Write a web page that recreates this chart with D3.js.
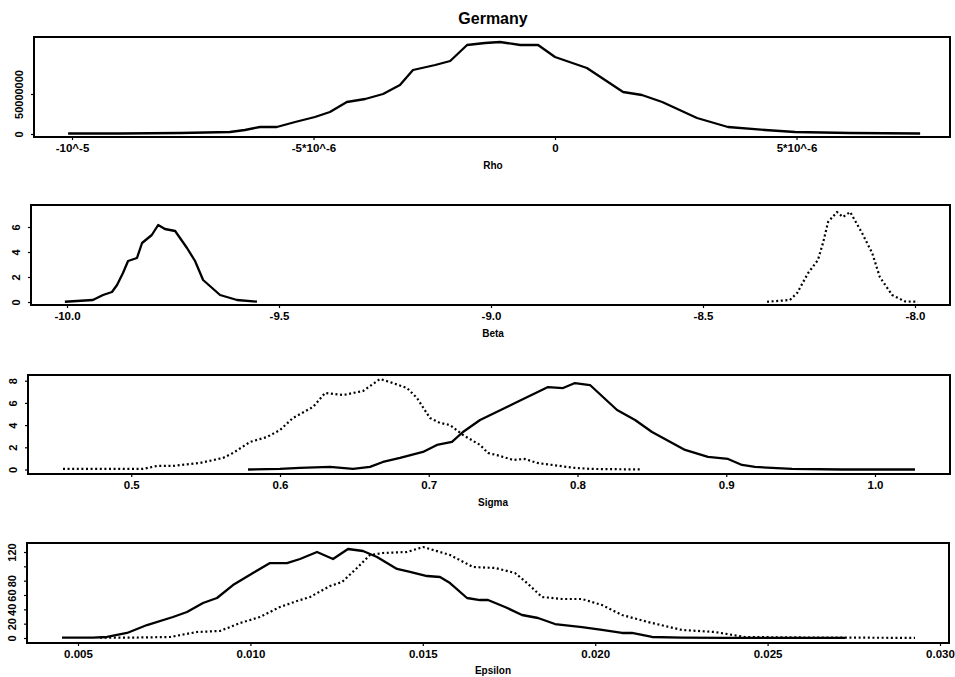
<!DOCTYPE html>
<html>
<head>
<meta charset="utf-8">
<script src="https://cdn.jsdelivr.net/npm/d3@7"></script>
<style>
  html, body { margin: 0; padding: 0; background: #fff; }
  svg { display: block; }
  text { font-family: "Liberation Sans", Arial, sans-serif; fill: #000; }
</style>
</head>
<body>
<svg id="chart" width="955" height="677"></svg>
<script>
// ---------------- DATA ----------------
const chartTitle = "Germany";

// Rho (solid)
const rhoX = [-10.08e-6, -9.01e-6, -7.76e-6, -6.73e-6, -6.42e-6, -6.11e-6, -5.76e-6, -5.38e-6, -4.97e-6, -4.66e-6,
  -4.31e-6, -3.93e-6, -3.56e-6, -3.21e-6, -2.94e-6, -2.48e-6, -2.17e-6, -1.82e-6, -1.45e-6, -1.14e-6,
  -0.72e-6, -0.35e-6, 0, 0.66e-6, 1.41e-6, 1.80e-6, 2.22e-6, 2.94e-6, 3.58e-6, 4.35e-6, 4.97e-6, 6.11e-6, 7.56e-6];
const rhoY = [0.6e6, 0.6e6, 1.25e6, 2.5e6, 5e6, 8.75e6, 8.75e6, 15e6, 21.25e6, 27.5e6,
  40e6, 43.75e6, 50e6, 61.25e6, 80e6, 86.25e6, 91.25e6, 111.25e6, 113.75e6, 115e6,
  111.25e6, 111.25e6, 96.25e6, 82.5e6, 52.5e6, 48.75e6, 40e6, 20e6, 8.75e6, 5e6, 2.5e6, 1.25e6, 0.6e6];
const rhoTicks = [-1e-5, -5e-6, 0, 5e-6];
const rhoTickLabels = ["-10^-5", "-5*10^-6", "0", "5*10^-6"];
const rhoYTicks = [0, 5e7];
const rhoYTickLabels = ["0", "50000000"];

// Beta (solid and dotted)
const betaSolidX = [-10.005, -9.939, -9.915, -9.894, -9.882, -9.868, -9.856, -9.835, -9.823, -9.800,
  -9.785, -9.769, -9.745, -9.717, -9.698, -9.679, -9.639, -9.599, -9.552];
const betaSolidY = [0.02, 0.16, 0.56, 0.8, 1.36, 2.32, 3.28, 3.52, 4.72, 5.36,
  6.16, 5.84, 5.68, 4.32, 3.28, 1.76, 0.56, 0.16, 0.03];
const betaDotX = [-8.349, -8.295, -8.278, -8.252, -8.229, -8.217, -8.205, -8.184, -8.170, -8.153,
  -8.125, -8.101, -8.083, -8.054, -8.024, -7.993];
const betaDotY = [0.02, 0.16, 0.72, 2.32, 3.36, 4.72, 6.4, 7.2, 6.8, 7.2,
  5.52, 3.92, 2.0, 0.56, 0.05, 0.02];
const betaTicks = [-10.0, -9.5, -9.0, -8.5, -8.0];
const betaTickLabels = ["-10.0", "-9.5", "-9.0", "-8.5", "-8.0"];
const betaYTicks = [0, 2, 4, 6];
const betaYTickLabels = ["0", "2", "4", "6"];

// Sigma (solid and dotted)
const sigmaSolidX = [0.5785, 0.6, 0.6134, 0.6336, 0.6491, 0.6605, 0.6692, 0.6807, 0.6961, 0.7055,
  0.7156, 0.7230, 0.7345, 0.7580, 0.7802, 0.7903, 0.7983, 0.8084, 0.8266, 0.8387,
  0.8501, 0.8723, 0.8877, 0.9012, 0.9106, 0.9193, 0.9442, 0.9778, 1.0269];
const sigmaSolidY = [0.0, 0.05, 0.14, 0.23, 0.05, 0.23, 0.68, 1.04, 1.58, 2.21,
  2.48, 3.38, 4.46, 5.99, 7.43, 7.34, 7.79, 7.61, 5.36, 4.46,
  3.38, 1.76, 1.13, 0.95, 0.41, 0.23, 0.05, 0.0, 0.0];
const sigmaDotX = [0.4541, 0.5079, 0.5173, 0.5281, 0.5462, 0.5617, 0.5684, 0.5798, 0.5913, 0.6,
  0.6087, 0.6222, 0.6303, 0.6424, 0.6558, 0.6672, 0.6740, 0.6854, 0.6921, 0.7008,
  0.7076, 0.7143, 0.7230, 0.7345, 0.7398, 0.7479, 0.7566, 0.7647, 0.7728, 0.7829,
  0.7983, 0.8097, 0.8434];
const sigmaDotY = [0.05, 0.05, 0.32, 0.32, 0.59, 1.04, 1.49, 2.48, 2.93, 3.56,
  4.64, 5.63, 6.89, 6.71, 7.07, 8.15, 7.88, 7.34, 6.44, 4.64,
  4.19, 4.01, 3.11, 2.21, 1.49, 1.22, 0.86, 0.95, 0.59, 0.41,
  0.14, 0.05, 0.0];
const sigmaTicks = [0.5, 0.6, 0.7, 0.8, 0.9, 1.0];
const sigmaTickLabels = ["0.5", "0.6", "0.7", "0.8", "0.9", "1.0"];
const sigmaYTicks = [0, 2, 4, 6, 8];
const sigmaYTickLabels = ["0", "2", "4", "6", "8"];

// Epsilon (solid and dotted)
const epsSolidX = [0.004536, 0.005435, 0.005841, 0.006421, 0.007001, 0.007755, 0.008161, 0.008625, 0.009031, 0.009495,
  0.010075, 0.010568, 0.011061, 0.011439, 0.011932, 0.012396, 0.012831, 0.013266, 0.013672, 0.014252,
  0.014629, 0.015122, 0.015499, 0.015789, 0.016282, 0.016659, 0.016891, 0.017384, 0.017877, 0.018341,
  0.018834, 0.019617, 0.020197, 0.020777, 0.021067, 0.021647, 0.022517, 0.023765, 0.025215, 0.027245];
const epsSolidY = [0.5, 0.5, 1.4, 7.0, 18.1, 29.3, 36.3, 48.8, 55.8, 73.9,
  90.7, 104.6, 104.6, 110.2, 120.0, 110.2, 124.2, 121.4, 113.0, 96.3,
  92.1, 86.5, 85.1, 76.7, 55.8, 53.0, 53.0, 43.3, 32.1, 27.9,
  19.5, 15.3, 11.2, 7.0, 7.0, 1.4, 0.5, 0.3, 0.2, 0.1];
const epsDotX = [0.005638, 0.006508, 0.007668, 0.008451, 0.009118, 0.009698, 0.010278, 0.010858, 0.011351, 0.011729,
  0.012309, 0.012657, 0.013092, 0.013469, 0.013846, 0.014542, 0.015006, 0.015789, 0.016456, 0.017094,
  0.017674, 0.018022, 0.018457, 0.019037, 0.019617, 0.020197, 0.020777, 0.021531, 0.022517, 0.023474,
  0.024344, 0.025708, 0.027158, 0.029275];
const epsDotY = [0.5, 0.5, 1.4, 8.4, 9.8, 20.9, 29.3, 43.3, 51.6, 57.2,
  72.6, 78.1, 97.7, 115.8, 118.6, 120.0, 127.0, 115.8, 99.1, 97.7,
  90.7, 76.7, 57.2, 54.4, 54.4, 46.0, 32.1, 22.3, 11.2, 8.4,
  1.4, 0.8, 0.5, 0.2];
const epsTicks = [0.005, 0.010, 0.015, 0.020, 0.025, 0.030];
const epsTickLabels = ["0.005", "0.010", "0.015", "0.020", "0.025", "0.030"];
const epsYTicks = [0, 20, 40, 60, 80, 100, 120];
const epsYTickLabels = ["0", "20", "40", "60", "80", "", "120"];

// ---------------- DRAWING ----------------
const svg = d3.select("#chart");

svg.append("text")
  .attr("x", 493).attr("y", 24)
  .attr("text-anchor", "middle")
  .style("font-size", "16px").style("font-weight", "bold")
  .text(chartTitle);

const panels = [
  { name: "Rho", box: [34, 37, 950, 137],
    xd: [-1e-5, 5e-6], xr: [72, 796.5], yd: [0, 5e7], yr: [134, 94],
    xt: rhoTicks, xl: rhoTickLabels, yt: rhoYTicks, yl: rhoYTickLabels, titleY: 169,
    series: [{ x: rhoX, y: rhoY, dotted: false }] },
  { name: "Beta", box: [31, 205, 950, 305],
    xd: [-10, -8], xr: [67, 915], yd: [0, 6], yr: [302, 227],
    xt: betaTicks, xl: betaTickLabels, yt: betaYTicks, yl: betaYTickLabels, titleY: 337,
    series: [{ x: betaSolidX, y: betaSolidY, dotted: false }, { x: betaDotX, y: betaDotY, dotted: true }] },
  { name: "Sigma", box: [28, 375, 950, 474],
    xd: [0.6, 1.0], xr: [280, 875], yd: [0, 8], yr: [469.5, 380.7],
    xt: sigmaTicks, xl: sigmaTickLabels, yt: sigmaYTicks, yl: sigmaYTickLabels, titleY: 506,
    series: [{ x: sigmaSolidX, y: sigmaSolidY, dotted: false }, { x: sigmaDotX, y: sigmaDotY, dotted: true }] },
  { name: "Epsilon", box: [27, 543, 949, 643],
    xd: [0.005, 0.030], xr: [78, 940], yd: [0, 120], yr: [638, 552],
    xt: epsTicks, xl: epsTickLabels, yt: epsYTicks, yl: epsYTickLabels, titleY: 674,
    series: [{ x: epsSolidX, y: epsSolidY, dotted: false }, { x: epsDotX, y: epsDotY, dotted: true }] }
];

panels.forEach(p => {
  const [x0, y0, x1, y1] = p.box;
  const xs = d3.scaleLinear().domain(p.xd).range(p.xr);
  const ys = d3.scaleLinear().domain(p.yd).range(p.yr);
  const g = svg.append("g");

  // x axis
  const xa = g.append("g").attr("transform", `translate(0,${y1})`)
    .call(d3.axisBottom(xs).tickValues(p.xt).tickSize(3).tickPadding(4)
      .tickFormat((d, i) => p.xl[i]));
  xa.select(".domain").remove();
  xa.selectAll("line").attr("stroke", "#000").attr("stroke-width", 1.2);
  xa.selectAll("text").style("font-size", "11.5px").style("font-weight", "bold")
    .style("font-family", "'Liberation Sans', Arial, sans-serif");

  // y axis
  const ya = g.append("g").attr("transform", `translate(${x0},0)`)
    .call(d3.axisLeft(ys).tickValues(p.yt).tickSize(3)
      .tickFormat((d, i) => p.yl[i]));
  ya.select(".domain").remove();
  ya.selectAll("line").attr("stroke", "#000").attr("stroke-width", 1.2);
  ya.selectAll("text")
    .attr("transform", "rotate(-90)")
    .attr("x", 0).attr("y", -11).attr("dy", "0")
    .attr("text-anchor", "middle")
    .style("font-size", "11px").style("font-weight", "bold")
    .style("font-family", "'Liberation Sans', Arial, sans-serif");

  // axis title
  g.append("text")
    .attr("x", 493).attr("y", p.titleY)
    .attr("text-anchor", "middle")
    .style("font-size", "10px").style("font-weight", "bold")
    .text(p.name);

  // curves
  p.series.forEach(s => {
    const pts = s.x.map((v, i) => [v, s.y[i]]);
    const line = d3.line().x(d => xs(d[0])).y(d => ys(d[1]));
    g.append("path")
      .attr("d", line(pts))
      .attr("fill", "none")
      .attr("stroke", "#000")
      .attr("stroke-width", s.dotted ? 2.2 : 2.3)
      .attr("stroke-linejoin", "round")
      .attr("stroke-dasharray", s.dotted ? "2,2.6" : null);
  });

  // box
  g.append("rect")
    .attr("x", x0).attr("y", y0)
    .attr("width", x1 - x0).attr("height", y1 - y0)
    .attr("fill", "none").attr("stroke", "#000").attr("stroke-width", 2);
});
</script>
</body>
</html>
